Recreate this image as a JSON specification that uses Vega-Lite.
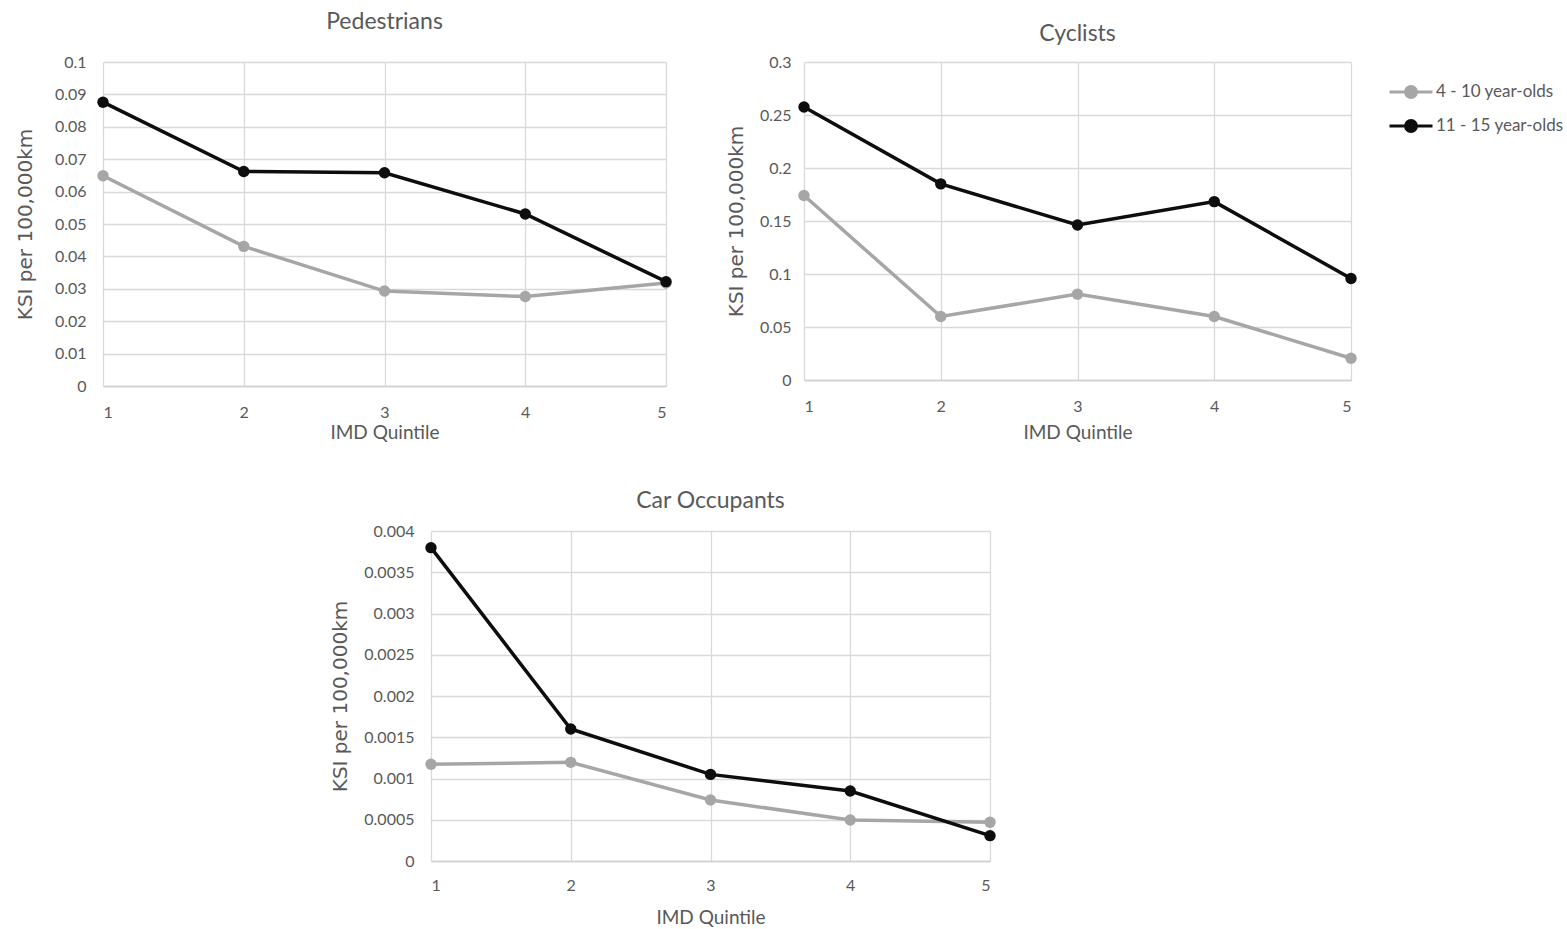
{
  "$schema": "https://vega.github.io/schema/vega-lite/v6.json",
  "background": "white",
  "padding": {"left": 15, "top": 11, "right": 5, "bottom": 5},
  "config": {
    "view": {"stroke": null},
    "font": "Lato",
    "axis": {
      "labelColor": "#595959",
      "labelFont": "Lato",
      "labelFontSize": 16,
      "titleColor": "#595959",
      "titleFontWeight": "normal",
      "gridColor": "#d9d9d9",
      "gridWidth": 1.3,
      "ticks": false,
      "domain": false
    },
    "axisX": {"domain": true, "domainColor": "#d0d0d0", "domainWidth": 1.5, "labelPadding": 18, "titleFont": "Lato", "titleFontSize": 19, "titlePadding": 3},
    "axisY": {"titleFont": "DejaVu Sans", "titleFontSize": 20, "labelPadding": 17},
    "title": {"color": "#595959", "font": "Lato", "fontSize": 23, "fontWeight": "normal", "frame": "group", "anchor": "middle"},
    "legend": {"labelColor": "#595959", "labelFont": "Lato", "labelFontSize": 17}
  },
  "datasets": {
    "ksi": [
      {"panel": "Pedestrians", "quintile": 1, "age": "4 - 10 year-olds", "value": 0.0649},
      {"panel": "Pedestrians", "quintile": 2, "age": "4 - 10 year-olds", "value": 0.0431},
      {"panel": "Pedestrians", "quintile": 3, "age": "4 - 10 year-olds", "value": 0.0293},
      {"panel": "Pedestrians", "quintile": 4, "age": "4 - 10 year-olds", "value": 0.0276},
      {"panel": "Pedestrians", "quintile": 5, "age": "4 - 10 year-olds", "value": 0.0318},
      {"panel": "Pedestrians", "quintile": 1, "age": "11 - 15 year-olds", "value": 0.0876},
      {"panel": "Pedestrians", "quintile": 2, "age": "11 - 15 year-olds", "value": 0.0662},
      {"panel": "Pedestrians", "quintile": 3, "age": "11 - 15 year-olds", "value": 0.0658},
      {"panel": "Pedestrians", "quintile": 4, "age": "11 - 15 year-olds", "value": 0.0531},
      {"panel": "Pedestrians", "quintile": 5, "age": "11 - 15 year-olds", "value": 0.0322},
      {"panel": "Cyclists", "quintile": 1, "age": "4 - 10 year-olds", "value": 0.174},
      {"panel": "Cyclists", "quintile": 2, "age": "4 - 10 year-olds", "value": 0.0599},
      {"panel": "Cyclists", "quintile": 3, "age": "4 - 10 year-olds", "value": 0.081},
      {"panel": "Cyclists", "quintile": 4, "age": "4 - 10 year-olds", "value": 0.0599},
      {"panel": "Cyclists", "quintile": 5, "age": "4 - 10 year-olds", "value": 0.0205},
      {"panel": "Cyclists", "quintile": 1, "age": "11 - 15 year-olds", "value": 0.2575},
      {"panel": "Cyclists", "quintile": 2, "age": "11 - 15 year-olds", "value": 0.185},
      {"panel": "Cyclists", "quintile": 3, "age": "11 - 15 year-olds", "value": 0.1462},
      {"panel": "Cyclists", "quintile": 4, "age": "11 - 15 year-olds", "value": 0.1683},
      {"panel": "Cyclists", "quintile": 5, "age": "11 - 15 year-olds", "value": 0.0958},
      {"panel": "Car Occupants", "quintile": 1, "age": "4 - 10 year-olds", "value": 0.001172},
      {"panel": "Car Occupants", "quintile": 2, "age": "4 - 10 year-olds", "value": 0.001196},
      {"panel": "Car Occupants", "quintile": 3, "age": "4 - 10 year-olds", "value": 0.000739},
      {"panel": "Car Occupants", "quintile": 4, "age": "4 - 10 year-olds", "value": 0.000497},
      {"panel": "Car Occupants", "quintile": 5, "age": "4 - 10 year-olds", "value": 0.000469},
      {"panel": "Car Occupants", "quintile": 1, "age": "11 - 15 year-olds", "value": 0.003798},
      {"panel": "Car Occupants", "quintile": 2, "age": "11 - 15 year-olds", "value": 0.0016},
      {"panel": "Car Occupants", "quintile": 3, "age": "11 - 15 year-olds", "value": 0.00105},
      {"panel": "Car Occupants", "quintile": 4, "age": "11 - 15 year-olds", "value": 0.000848},
      {"panel": "Car Occupants", "quintile": 5, "age": "11 - 15 year-olds", "value": 0.000307}
    ]
  },
  "data": {"name": "ksi"},
  "spacing": 48,
  "resolve": {"scale": {"color": "independent"}, "legend": {"color": "independent"}},
  "vconcat": [
    {
      "bounds": "flush",
      "spacing": 138,
      "resolve": {"scale": {"color": "independent"}, "legend": {"color": "independent"}},
      "hconcat": [
        {
          "width": 563,
          "height": 324,
          "title": {"text": "Pedestrians", "offset": 20},
          "transform": [{"filter": "datum.panel === 'Pedestrians'"}],
          "encoding": {
            "x": {"field": "quintile", "type": "quantitative", "scale": {"domain": [1, 5], "nice": false, "zero": false},
                  "axis": {"values": [1, 2, 3, 4, 5], "title": "IMD Quintile"}},
            "y": {"field": "value", "type": "quantitative", "scale": {"domain": [0, 0.1], "nice": false},
                  "axis": {"values": [0, 0.01, 0.02, 0.03, 0.04, 0.05, 0.06, 0.07, 0.08, 0.09, 0.1], "format": ".2~f", "title": "KSI per 100,000km", "titlePadding": 19}},
            "color": {"field": "age", "type": "nominal",
                      "scale": {"domain": ["4 - 10 year-olds", "11 - 15 year-olds"], "range": ["#a6a6a6", "#0d0d0d"]},
                      "legend": null}
          },
          "layer": [
            {"mark": {"type": "line", "strokeWidth": 3.5}},
            {"mark": {"type": "point", "filled": true, "size": 130, "opacity": 1}}
          ]
        },
        {
          "width": 547,
          "height": 318,
          "title": {"text": "Cyclists", "offset": 8},
          "transform": [{"filter": "datum.panel === 'Cyclists'"}],
          "encoding": {
            "x": {"field": "quintile", "type": "quantitative", "scale": {"domain": [1, 5], "nice": false, "zero": false},
                  "axis": {"values": [1, 2, 3, 4, 5], "title": "IMD Quintile", "titlePadding": 9}},
            "y": {"field": "value", "type": "quantitative", "scale": {"domain": [0, 0.3], "nice": false},
                  "axis": {"values": [0, 0.05, 0.1, 0.15, 0.2, 0.25, 0.3], "format": ".2~f", "title": "KSI per 100,000km", "titlePadding": 13, "labelPadding": 13}},
            "color": {"field": "age", "type": "nominal",
                      "scale": {"domain": ["4 - 10 year-olds", "11 - 15 year-olds"], "range": ["#a6a6a6", "#0d0d0d"]},
                      "legend": {
                        "title": null,
                        "orient": "none",
                        "legendX": 591,
                        "legendY": 14,
                        "padding": 0,
                        "symbolType": "M-1.5,0L1.5,0M0.38,0A0.38,0.38,0,1,1,-0.38,0A0.38,0.38,0,1,1,0.38,0Z",
                        "symbolSize": 822,
                        "symbolStrokeWidth": 3,
                        "labelOffset": 9,
                        "rowPadding": 6,
                        "encode": {
                          "symbols": {
                            "update": {
                              "fill": [{"test": "datum.value === '4 - 10 year-olds'", "value": "#a6a6a6"}, {"value": "#0d0d0d"}],
                              "stroke": [{"test": "datum.value === '4 - 10 year-olds'", "value": "#a6a6a6"}, {"value": "#0d0d0d"}],
                              "opacity": {"value": 1}
                            }
                          }
                        }
                      }}
          },
          "layer": [
            {"mark": {"type": "line", "strokeWidth": 3.5}},
            {"mark": {"type": "point", "filled": true, "size": 130, "opacity": 1}}
          ]
        }
      ]
    },
    {
      "bounds": "flush",
      "spacing": 0,
      "resolve": {"scale": {"color": "independent"}, "legend": {"color": "independent"}},
      "hconcat": [
        {
          "width": 328,
          "height": 10,
          "data": {"values": []},
          "mark": {"type": "point", "opacity": 0},
          "encoding": {}
        },
        {
          "width": 559,
          "height": 330,
          "title": {"text": "Car Occupants", "offset": 10},
          "transform": [{"filter": "datum.panel === 'Car Occupants'"}],
          "encoding": {
            "x": {"field": "quintile", "type": "quantitative", "scale": {"domain": [1, 5], "nice": false, "zero": false},
                  "axis": {"values": [1, 2, 3, 4, 5], "title": "IMD Quintile", "labelPadding": 16, "titlePadding": 15}},
            "y": {"field": "value", "type": "quantitative", "scale": {"domain": [0, 0.004], "nice": false},
                  "axis": {"values": [0, 0.0005, 0.001, 0.0015, 0.002, 0.0025, 0.003, 0.0035, 0.004], "format": ".4~f", "title": "KSI per 100,000km", "titlePadding": 13}},
            "color": {"field": "age", "type": "nominal",
                      "scale": {"domain": ["4 - 10 year-olds", "11 - 15 year-olds"], "range": ["#a6a6a6", "#0d0d0d"]},
                      "legend": null}
          },
          "layer": [
            {"mark": {"type": "line", "strokeWidth": 3.5}},
            {"mark": {"type": "point", "filled": true, "size": 130, "opacity": 1}}
          ]
        }
      ]
    }
  ]
}
